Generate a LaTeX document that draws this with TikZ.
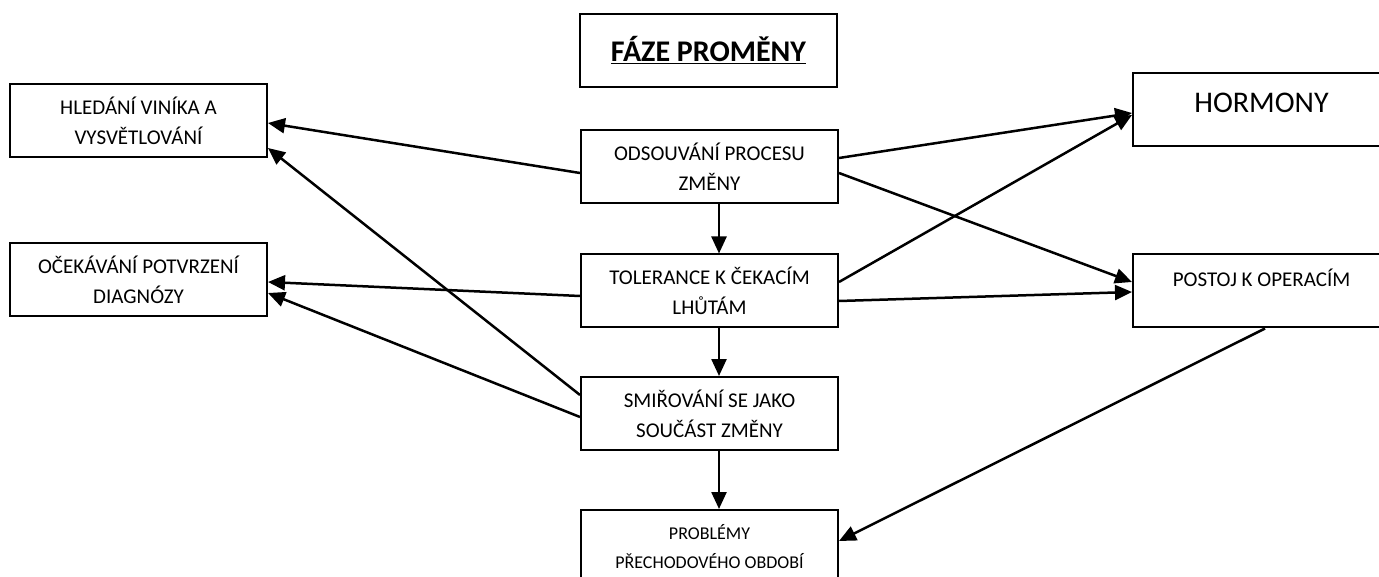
\documentclass[tikz,border=0pt]{standalone}
\usepackage{fontspec}
\setmainfont{Carlito}
\usetikzlibrary{arrows.meta,positioning,calc}

\begin{document}
\begin{tikzpicture}[
    x=1pt, y=-1pt,
    box/.style={rectangle, draw, line width=2pt, minimum width=257pt, minimum height=73pt, inner sep=0pt, align=center, font=\fontsize{21}{30}\selectfont},
    link/.style={->, line width=2.5pt},
    >={Triangle[length=17pt,width=15pt]}
]
    \useasboundingbox (0,0) rectangle (1379,577);

    \node[box, font=\fontsize{30}{36}\selectfont\bfseries] (title) at (708.5,50.5) {\underline{FÁZE PROMĚNY}};

    \node[box] (hledani) at (138.5,120.5) {HLEDÁNÍ VINÍKA A\\VYSVĚTLOVÁNÍ};
    \node[box] (ocekavani) at (138.5,279.5) {OČEKÁVÁNÍ POTVRZENÍ\\DIAGNÓZY};

    \node[box] (odsouvani) at (709.5,167) {ODSOUVÁNÍ PROCESU\\ZMĚNY};
    \node[box] (tolerance) at (709.5,291) {TOLERANCE K ČEKACÍM\\LHŮTÁM};
    \node[box] (smirovani) at (709.5,413.5) {SMIŘOVÁNÍ SE JAKO\\SOUČÁST ZMĚNY};
    \node[box, font=\fontsize{18}{29}\selectfont] (problemy) at (709.5,546.5) {PROBLÉMY\\PŘECHODOVÉHO OBDOBÍ};

    \node[box, font=\fontsize{30}{36}\selectfont, text height=39.5pt, text depth=33.5pt] (hormony) at (1261.5,109.5) {HORMONY};
    \node[box, text height=32pt, text depth=41pt] (postoj) at (1261.5,291) {POSTOJ K OPERACÍM};

    % do leva
    \draw[link] ([yshift=-6pt]odsouvani.west) -- ([yshift=-2.5pt]hledani.east);
    \draw[link] ([yshift=18.5pt]smirovani.west) -- ([yshift=-27.5pt]hledani.east);
    \draw[link] ([yshift=-5pt]tolerance.west) -- ([yshift=-2.5pt]ocekavani.east);
    \draw[link] ([yshift=-3.5pt]smirovani.west) -- ([yshift=-13.5pt]ocekavani.east);

    % do prava
    \draw[link] ([yshift=9pt]odsouvani.east) -- ([yshift=-3.5pt]hormony.west);
    \draw[link] ([yshift=-6pt]odsouvani.east) -- ([yshift=9pt]postoj.west);
    \draw[link] ([yshift=9pt]tolerance.east) -- ([yshift=-5.5pt]hormony.west);
    \draw[link] ([yshift=-10pt]tolerance.east) -- ([yshift=-1pt]postoj.west);

    % svisle
    \draw[link] ([xshift=9.5pt]odsouvani.south) -- ([xshift=9.5pt]tolerance.north);
    \draw[link] ([xshift=9.5pt]tolerance.south) -- ([xshift=9.5pt]smirovani.north);
    \draw[link] ([xshift=9.5pt]smirovani.south) -- ([xshift=9.5pt]problemy.north);

    \draw[link] ([xshift=3.5pt]postoj.south) -- ([yshift=5.5pt]problemy.east);
\end{tikzpicture}
\end{document}
